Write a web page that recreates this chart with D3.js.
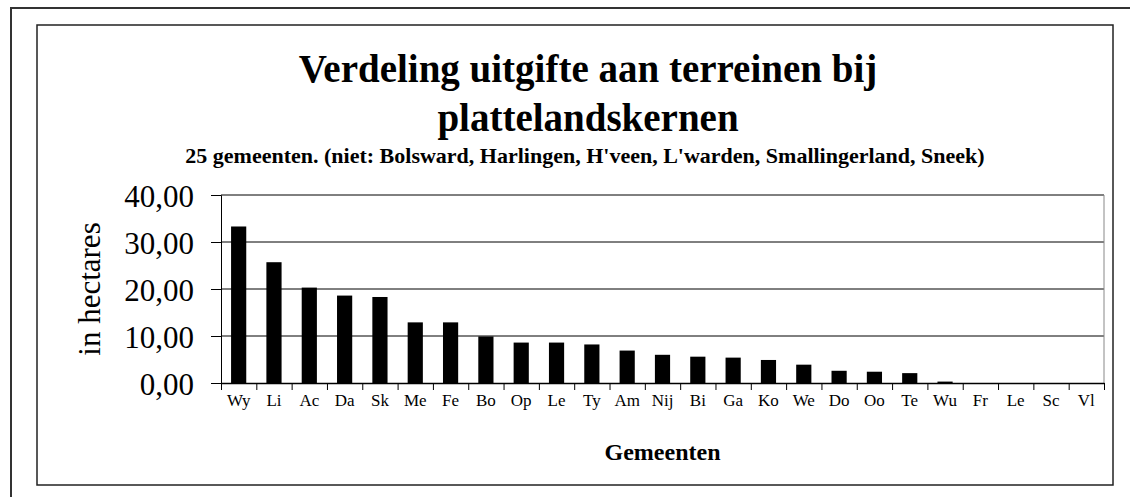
<!DOCTYPE html>
<html>
<head>
<meta charset="utf-8">
<script src="https://cdn.jsdelivr.net/npm/d3@7"></script>
<style>
  html, body { margin: 0; padding: 0; background: #fff; }
  svg { display: block; font-family: "Liberation Serif", "Times New Roman", serif; }
</style>
</head>
<body>
<svg id="chart"></svg>
<script>
/* Data */
const categories = ['Wy', 'Li', 'Ac', 'Da', 'Sk', 'Me', 'Fe', 'Bo', 'Op', 'Le', 'Ty', 'Am', 'Nij',
    'Bi', 'Ga', 'Ko', 'We', 'Do', 'Oo', 'Te', 'Wu', 'Fr', 'Le', 'Sc', 'Vl'];
const hectares = [33.3, 25.7, 20.3, 18.6, 18.3, 12.9, 12.9, 9.9, 8.6, 8.6, 8.2, 6.9, 6.0,
    5.6, 5.4, 4.9, 3.9, 2.6, 2.4, 2.1, 0.3, 0, 0, 0, 0];
const yTicks = [0, 10, 20, 30, 40];
const titleLines = ['Verdeling uitgifte aan terreinen bij', 'plattelandskernen'];
const subtitle = "25 gemeenten. (niet: Bolsward, Harlingen, H'veen, L'warden, Smallingerland, Sneek)";

/* Layout */
const W = 1130, H = 497;
const plot = { left: 221, right: 1104, top: 195, bottom: 383 };

const svg = d3.select("#chart")
    .attr("width", W)
    .attr("height", H);

/* Outer and inner frames */
svg.append("rect")
    .attr("x", 11).attr("y", 8)
    .attr("width", W).attr("height", H)
    .attr("fill", "none").attr("stroke", "#333").attr("stroke-width", 2);

svg.append("rect")
    .attr("x", 37).attr("y", 25)
    .attr("width", 1076).attr("height", 460)
    .attr("fill", "none").attr("stroke", "#222").attr("stroke-width", 1.5);

/* Scales */
const idx = d3.range(categories.length);

const x = d3.scaleBand()
    .domain(idx)
    .range([plot.left, plot.right])
    .paddingInner(0.57)
    .paddingOuter(0.285);

/* boundary scale for tick marks between categories */
const xEdge = d3.scaleLinear()
    .domain([0, categories.length])
    .range([plot.left, plot.right]);

const y = d3.scaleLinear()
    .domain([0, 40])
    .range([plot.bottom, plot.top]);

/* Gridlines */
svg.append("g")
    .selectAll("line")
    .data(yTicks.filter(d => d > 0))
    .join("line")
    .attr("x1", plot.left).attr("x2", plot.right)
    .attr("y1", d => y(d)).attr("y2", d => y(d))
    .attr("stroke", "#000").attr("stroke-width", 1);

/* Right edge of plot area */
svg.append("line")
    .attr("x1", plot.right).attr("x2", plot.right)
    .attr("y1", plot.top).attr("y2", plot.bottom)
    .attr("stroke", "#888").attr("stroke-width", 1);

/* Bars */
svg.append("g")
    .selectAll("rect")
    .data(idx)
    .join("rect")
    .attr("x", i => x(i))
    .attr("y", i => y(hectares[i]))
    .attr("width", x.bandwidth())
    .attr("height", i => plot.bottom - y(hectares[i]))
    .attr("fill", "#000");

/* Y axis */
const yAxis = svg.append("g")
    .attr("transform", `translate(${plot.left},0)`)
    .call(d3.axisLeft(y)
        .tickValues(yTicks)
        .tickSize(10)
        .tickPadding(17)
        .tickFormat(d => d3.format(".2f")(d).replace(".", ",")));
yAxis.select(".domain").attr("stroke", "#000");
yAxis.selectAll("line").attr("stroke", "#000");
yAxis.selectAll("text")
    .attr("dy", "0.37em")
    .style("font-size", "31px")
    .style("font-family", "Liberation Serif")
    .attr("fill", "#000");

/* X axis: tick marks at category boundaries */
const xTickAxis = svg.append("g")
    .attr("transform", `translate(0,${plot.bottom})`)
    .call(d3.axisBottom(xEdge)
        .tickValues(d3.range(categories.length + 1))
        .tickSize(7)
        .tickSizeOuter(0)
        .tickFormat(""));
xTickAxis.select(".domain").attr("stroke", "#000").attr("stroke-width", 1.5);
xTickAxis.selectAll("line").attr("stroke", "#000");

/* X axis labels */
const xLabelAxis = svg.append("g")
    .attr("transform", `translate(0,${plot.bottom})`)
    .call(d3.axisBottom(x)
        .tickSize(0)
        .tickPadding(23)
        .tickFormat(i => categories[i]));
xLabelAxis.select(".domain").remove();
xLabelAxis.selectAll("text")
    .attr("dy", "0")
    .style("font-size", "17px")
    .style("font-family", "Liberation Serif")
    .attr("fill", "#000");

/* Titles */
svg.append("g")
    .selectAll("text")
    .data(titleLines)
    .join("text")
    .attr("x", 588)
    .attr("y", (d, i) => 82 + i * 49)
    .attr("text-anchor", "middle")
    .style("font-size", "39px")
    .style("font-weight", "bold")
    .text(d => d);

svg.append("text")
    .attr("x", 585)
    .attr("y", 163)
    .attr("text-anchor", "middle")
    .style("font-size", "22px")
    .style("font-weight", "bold")
    .text(subtitle);

/* Axis titles */
svg.append("text")
    .attr("x", (plot.left + plot.right) / 2)
    .attr("y", 460)
    .attr("text-anchor", "middle")
    .style("font-size", "24px")
    .style("font-weight", "bold")
    .text("Gemeenten");

svg.append("text")
    .attr("transform", `translate(100,${(plot.top + plot.bottom) / 2}) rotate(-90)`)
    .attr("text-anchor", "middle")
    .style("font-size", "31px")
    .text("in hectares");
</script>
</body>
</html>
